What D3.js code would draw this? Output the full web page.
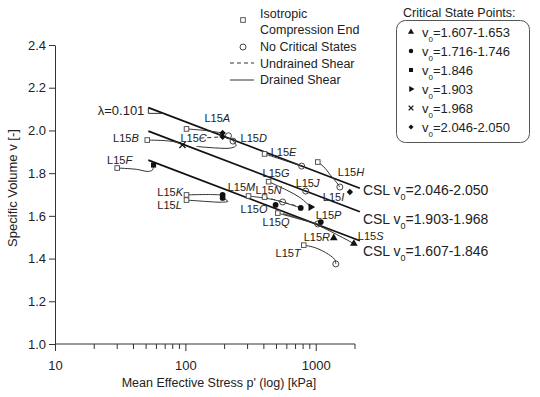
<!DOCTYPE html>
<html lang="en">
<head>
<meta charset="UTF-8">
<title>Critical State Lines</title>
<script src="https://d3js.org/d3.v7.min.js"></script>
<style>
    body { margin: 0; background: #fff; }
    text { font-family: "Liberation Sans", Arial, sans-serif; fill: #222; }
    .axis path, .axis line { stroke: #333; stroke-width: 1px; fill: none; }
    .csl { fill: none; stroke: #111; stroke-width: 1.7px; }
    .path { fill: none; stroke: #333; stroke-width: 1px; }
</style>
</head>
<body>
<script>
// critical state lines, v = gamma - lambda * ln(p)
var lambda = 0.101;
var cslGamma = [2.506, 2.396, 2.260];
var cslText = ["2.046-2.050", "1.903-1.968", "1.607-1.846"];
var cslRange = [52, 2180];

var xTicks = [10, 100, 1000];
var yTicks = [1.0, 1.2, 1.4, 1.6, 1.8, 2.0, 2.2, 2.4];

// end of isotropic compression [p, v]
var isoEnd = [[102, 2.007], [51, 1.955], [405, 1.890], [30, 1.824], [435, 1.760],
    [1036, 1.852], [102, 1.698], [102, 1.674], [305, 1.693], [405, 1.688],
    [511, 1.613], [809, 1.463]];

// no critical state reached [p, v]
var noCrit = [[214, 1.975], [232, 1.950], [780, 1.833], [1530, 1.735], [838, 1.716],
    [557, 1.665], [1036, 1.562], [1425, 1.375]];

// critical state groups and points [p, v, group]
var groups = ["1.607-1.653", "1.716-1.746", "1.846", "1.903", "1.968", "2.046-2.050"];
var csPoints = [[1374, 1.496, 0], [1960, 1.470, 0],
    [193, 1.698, 1], [193, 1.684, 1], [492, 1.651, 1], [767, 1.637, 1], [1093, 1.571, 1],
    [57, 1.838, 2], [915, 1.641, 3], [95, 1.932, 4],
    [193, 1.988, 5], [193, 1.970, 5], [1827, 1.712, 5]];

var drained = [
    [[102, 2.007], [140, 2.0], [193, 1.988]],
    [[51, 1.955], [70, 1.952], [85, 1.945], [95, 1.932]],
    [[122, 1.925], [170, 1.918], [225, 1.918], [245, 1.930], [232, 1.950]],
    [[405, 1.890], [560, 1.862], [780, 1.833]],
    [[30, 1.824], [42, 1.818], [52, 1.808], [56, 1.815], [57, 1.838]],
    [[435, 1.760], [600, 1.720], [760, 1.685], [915, 1.641]],
    [[1036, 1.852], [1150, 1.830], [1300, 1.790], [1450, 1.755], [1530, 1.735]],
    [[102, 1.698], [150, 1.700], [193, 1.698]],
    [[102, 1.674], [140, 1.668], [190, 1.664], [212, 1.668], [193, 1.684]],
    [[305, 1.693], [480, 1.675], [767, 1.637]],
    [[511, 1.613], [750, 1.585], [1036, 1.562]],
    [[809, 1.463], [1000, 1.450], [1250, 1.420], [1400, 1.395], [1425, 1.375]],
    [[560, 1.611], [1000, 1.560], [1960, 1.470]]
];
var undrained = [
    [[130, 1.964], [193, 1.970]],
    [[405, 1.688], [557, 1.665], [700, 1.648]]
];

// test labels [letter, p, v]
var testLabels = [["A", 140, 2.039], ["B", 27.9, 1.946], ["C", 91.6, 1.946], ["D", 265, 1.946],
    ["E", 451, 1.880], ["F", 25.1, 1.843], ["G", 391, 1.782], ["H", 1476, 1.787],
    ["I", 1132, 1.669], ["J", 701, 1.735], ["K", 60.9, 1.693], ["L", 60.9, 1.632],
    ["M", 211, 1.716], ["N", 345, 1.702], ["O", 265, 1.613], ["P", 1000, 1.585],
    ["Q", 391, 1.552], ["R", 809, 1.482], ["S", 2104, 1.487], ["T", 492, 1.407]];

var width = 540, height = 397;
var x = d3.scaleLog().domain([10, 2000]).range([55, 355]);
var y = d3.scaleLinear().domain([1.0, 2.4]).range([344, 45]);

var svg = d3.select("body").append("svg")
    .attr("width", width)
    .attr("height", height);

// axes
var minor = [20, 30, 40, 50, 60, 70, 80, 90, 200, 300, 400, 500, 600, 700, 800, 900, 2000];
var xAxis = svg.append("g").attr("class", "axis")
    .attr("transform", "translate(0," + y(1.0) + ")");
xAxis.call(d3.axisBottom(x).tickValues(xTicks).tickSize(7).tickSizeOuter(0).tickFormat(d3.format("d")));
xAxis.selectAll(".minor").data(minor).enter().append("line")
    .attr("x1", d => x(d)).attr("x2", d => x(d))
    .attr("y1", 0).attr("y2", 5);
xAxis.selectAll("text").style("font-size", "13px").attr("dy", "1.2em");
xAxis.select(".domain").attr("d", "M" + x(10) + ",0H" + x(2000));

var yAxis = svg.append("g").attr("class", "axis")
    .attr("transform", "translate(" + x(10) + ",0)");
yAxis.call(d3.axisLeft(y).tickValues(yTicks).tickSize(6).tickSizeOuter(0).tickFormat(d3.format(".1f")));
yAxis.selectAll("text").style("font-size", "13px").attr("x", -9);

svg.append("text")
    .attr("transform", "translate(17,188) rotate(-90)")
    .attr("text-anchor", "middle")
    .style("font-size", "13px")
    .text("Specific Volume v [-]");

svg.append("text")
    .attr("x", 219).attr("y", 387)
    .attr("text-anchor", "middle")
    .style("font-size", "12.5px")
    .text("Mean Effective Stress p' (log) [kPa]");

// critical state lines
var cslLabelShift = [7, 12, 15];
cslGamma.forEach(function(g, i) {
    var pts = cslRange.map(p => [p, g - lambda * Math.log(p)]);
    svg.append("path").attr("class", "csl")
        .attr("d", d3.line().x(d => x(d[0])).y(d => y(d[1]))(pts));
    var t = svg.append("text")
        .attr("x", x(cslRange[1]) + 3)
        .attr("y", y(pts[1][1]) + cslLabelShift[i])
        .style("font-size", "14px");
    t.append("tspan").text("CSL v");
    t.append("tspan").attr("baseline-shift", "sub").style("font-size", "9px").text("0");
    t.append("tspan").text("=" + cslText[i]);
});

// slope marker
var p0 = 52, p1 = 68;
var v0 = cslGamma[0] - lambda * Math.log(p0), v1 = cslGamma[0] - lambda * Math.log(p1);
svg.append("path").attr("class", "path")
    .attr("d", "M" + x(p0) + "," + y(v0) + "V" + y(v1) + "H" + x(p1));
svg.append("text")
    .attr("x", x(p0) - 4).attr("y", y(v1) + 2)
    .attr("text-anchor", "end")
    .style("font-size", "13px")
    .text("\u03bb=0.101");

// stress paths
var line = d3.line().x(d => x(d[0])).y(d => y(d[1])).curve(d3.curveCatmullRom);
svg.selectAll(".dr").data(drained).enter().append("path")
    .attr("class", "path").attr("d", line);
svg.selectAll(".ud").data(undrained).enter().append("path")
    .attr("class", "path").attr("stroke-dasharray", "4,3").attr("d", line);

// markers
svg.selectAll(".iso").data(isoEnd).enter().append("rect")
    .attr("x", d => x(d[0]) - 2.3).attr("y", d => y(d[1]) - 2.3)
    .attr("width", 4.6).attr("height", 4.6)
    .attr("fill", "#fff").attr("stroke", "#444").attr("stroke-width", 0.9);

svg.selectAll(".nc").data(noCrit).enter().append("circle")
    .attr("cx", d => x(d[0])).attr("cy", d => y(d[1])).attr("r", 3)
    .attr("fill", "none").attr("stroke", "#444").attr("stroke-width", 1);

function symbolPath(g, size) {
    if (g === 0) return d3.symbol(d3.symbolTriangle, size)();
    if (g === 1) return d3.symbol(d3.symbolCircle, size)();
    if (g === 2) return d3.symbol(d3.symbolSquare, size)();
    if (g === 3) return d3.symbol(d3.symbolTriangle, size)();
    if (g === 4) return d3.symbol(d3.symbolTimes, size)();
    return d3.symbol(d3.symbolDiamond2, size)();
}
function drawSymbol(sel, g, size) {
    sel.attr("d", symbolPath(g, size))
        .attr("fill", g === 4 ? "none" : "#111")
        .attr("stroke", "#111")
        .attr("stroke-width", g === 4 ? 1.3 : 0);
}
svg.selectAll(".cs").data(csPoints).enter().append("path")
    .attr("transform", d => "translate(" + x(d[0]) + "," + y(d[1]) + ")" + (d[2] === 3 ? " rotate(90)" : ""))
    .each(function(d) { drawSymbol(d3.select(this), d[2], 26); });

// test labels
testLabels.forEach(function(d) {
    var t = svg.append("text")
        .attr("x", x(d[1])).attr("y", y(d[2]))
        .style("font-size", "11px");
    t.append("tspan").text("L15");
    t.append("tspan").style("font-style", "italic").text(d[0]);
});

// legend: symbols
var leg = svg.append("g");
leg.append("rect").attr("x", 240.7).attr("y", 17.7).attr("width", 4.6).attr("height", 4.6)
    .attr("fill", "#fff").attr("stroke", "#444").attr("stroke-width", 0.9);
leg.append("circle").attr("cx", 243).attr("cy", 47).attr("r", 3)
    .attr("fill", "none").attr("stroke", "#444");
leg.append("line").attr("x1", 230).attr("x2", 254).attr("y1", 63).attr("y2", 63)
    .attr("stroke", "#333").attr("stroke-dasharray", "4,3");
leg.append("line").attr("x1", 230).attr("x2", 254).attr("y1", 80).attr("y2", 80)
    .attr("stroke", "#333");
var legText = [["Isotropic", 18], ["Compression End", 34], ["No Critical States", 51],
    ["Undrained Shear", 68], ["Drained Shear", 84]];
legText.forEach(function(d) {
    leg.append("text").attr("x", 260).attr("y", d[1]).style("font-size", "12.5px").text(d[0]);
});

// legend: critical state points
var box = svg.append("g");
box.append("text").attr("x", 403).attr("y", 17).style("font-size", "12.5px").text("Critical State Points:");
box.append("rect").attr("x", 396.5).attr("y", 20.5).attr("width", 133).attr("height", 122)
    .attr("rx", 9).attr("fill", "none").attr("stroke", "#555");
groups.forEach(function(gname, i) {
    var cy = 32 + i * 19;
    box.append("path")
        .attr("transform", "translate(411," + cy + ")" + (i === 3 ? " rotate(90)" : ""))
        .call(drawSymbol, i, 16);
    var t = box.append("text").attr("x", 422).attr("y", cy + 5).style("font-size", "13px");
    t.append("tspan").text("v");
    t.append("tspan").attr("baseline-shift", "sub").style("font-size", "8px").text("0");
    t.append("tspan").text("=" + gname);
});
</script>
</body>
</html>
